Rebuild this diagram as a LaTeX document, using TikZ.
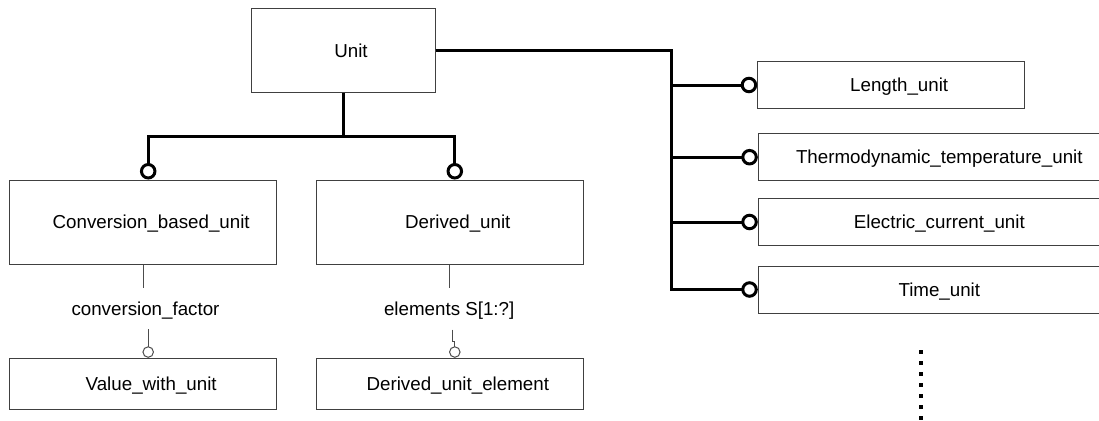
\documentclass[tikz,border=0pt]{standalone}
\usepackage{fontspec}
\setmainfont{Liberation Sans}
\usetikzlibrary{arrows.meta,calc}

\begin{document}
\begin{tikzpicture}[x=1pt,y=-1pt,
    entity/.style={draw=black!75,line width=1pt,inner sep=0pt,
      minimum width=267pt,minimum height=47pt,
      font=\fontsize{18.75}{22}\selectfont,text height=13.4pt,text depth=0pt,
      execute at begin node={\kern16pt}},
    role/.style={inner xsep=2pt,inner ysep=13.8pt,
      font=\fontsize{18.75}{22}\selectfont,text height=13.4pt,text depth=0pt},
    isa/.style={line width=3pt,-{Circle[open,length=16.5pt]}},
    rel/.style={draw=black!70,line width=1pt}]
  \useasboundingbox (0,0) rectangle (1099,420);
  % supertype
  \node[entity,minimum width=184pt,minimum height=84pt] (unit) at (343,50.3) {Unit};
  % subtypes below
  \node[entity,minimum height=84pt] (conv) at (143.2,222) {Conversion\_based\_unit};
  \node[entity,minimum height=84pt] (derived) at (449.8,222) {Derived\_unit};
  % attribute targets
  \node[entity,minimum height=51pt] (value) at (143.2,383.8) {Value\_with\_unit};
  \node[entity,minimum height=51pt] (element) at (449.8,383.8) {Derived\_unit\_element};
  % subtypes to the right (cut at the page edge)
  \node[entity] (length) at (891.2,85) {Length\_unit};
  \node[entity,minimum width=346pt] (thermo) at (931.3,157.2) {Thermodynamic\_temperature\_unit};
  \node[entity,minimum width=346pt] (current) at (931.3,222) {Electric\_current\_unit};
  \node[entity,minimum width=346pt] (time) at (931.3,289.5) {Time\_unit};
  % role labels
  \node[role] (factor) at (145.5,308.5) {conversion\_factor};
  \node[role] (elems) at (449.2,309) {elements S[1:?]};

  % subtype lines
  \draw[isa] (unit.south) -- ++(0,43.4) -| ([xshift=5pt]conv.north);
  \draw[isa] (unit.south) -- ++(0,43.4) -| ([xshift=5pt]derived.north);
  \coordinate (bus) at ($(unit.east)+(236,0)$);
  \foreach \sub in {length,thermo,current,time}
    \draw[isa] (unit.east) -- (bus) |- (\sub.west);

  % attribute lines
  \draw[rel] (conv.south) -- (conv.south |- factor.north);
  \path ([xshift=5pt]value.north) coordinate (vtop);
  \draw[rel,-{Circle[open,length=11.5pt]}] (vtop |- factor.south) -- (vtop);
  \draw[rel] (derived.south) -- (derived.south |- elems.north);
  \path ([xshift=5pt]element.north) coordinate (etop);
  \draw[rel,-{Circle[open,length=11.5pt]}] (etop |- elems.south) ++(-2,0) -- ++(0,11.7) -| (etop);

  % more subtypes
  \coordinate (more) at (921,350);
  \draw[line width=4pt,dash pattern=on 4pt off 7pt] (more) -- ++(0,72);
\end{tikzpicture}
\end{document}
